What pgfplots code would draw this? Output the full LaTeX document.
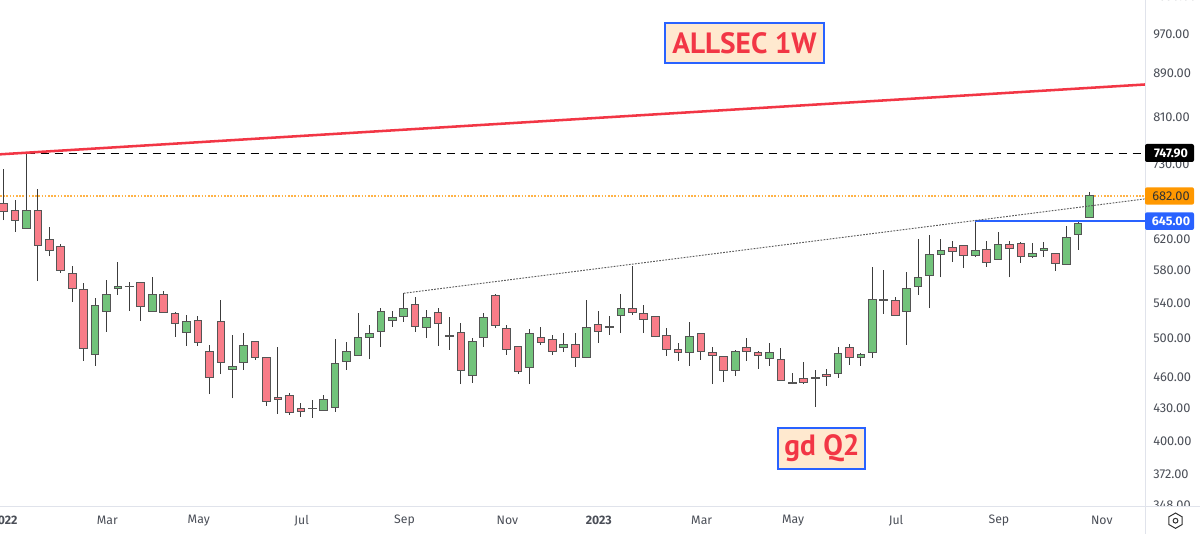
\documentclass[border=0pt]{standalone}
\usepackage{pgfplots}
\usepackage{pgfplotstable}
\usepackage{fontspec}
\usetikzlibrary{shapes.geometric}
\pgfplotsset{compat=1.18}
\setmainfont{Fira Sans}
\newfontfamily\boxfont{PT Sans}
\definecolor{upc}{HTML}{72C37B}
\definecolor{dnc}{HTML}{F87C88}
\definecolor{edge}{HTML}{555555}
\definecolor{wickc}{HTML}{3C3C3C}
\definecolor{tvred}{HTML}{F23645}
\definecolor{tvblue}{HTML}{2962FF}
\definecolor{tvorange}{HTML}{FF9800}
\definecolor{axline}{HTML}{E0E3EB}
\definecolor{lab}{HTML}{4A4E57}
\definecolor{boxfill}{HTML}{FFE9CF}
\definecolor{orangedots}{HTML}{FFB347}
\pgfplotstableread{
o h l c u
669.7 721.5 645.3 658.1 0
658.5 674.5 629.1 644.3 0
634.1 746.6 634.1 658.5 1
658.5 690.4 565.1 611.1 0
619.2 636.4 596.7 604.5 0
608.9 612.9 575.8 577.9 0
574.5 584.2 540.5 556.6 0
555.4 563.4 475.4 488.0 0
481.7 545.3 470.0 536.4 1
529.4 566.7 506.4 549.3 1
556.1 589.0 548.9 558.2 1
559.0 564.6 529.8 558.2 0
563.9 563.9 518.3 534.4 0
529.4 570.8 529.0 549.3 1
549.3 553.3 527.5 527.5 0
526.6 528.3 501.0 515.3 0
505.4 525.1 491.2 517.2 1
519.1 523.7 491.2 494.2 0
485.2 491.7 441.9 457.8 0
517.2 542.5 461.6 473.8 0
466.2 503.2 438.0 469.3 1
473.0 504.7 465.9 491.7 1
496.0 496.0 476.1 478.2 0
478.2 478.2 431.0 435.2 0
438.3 489.8 423.4 436.4 0
440.5 442.8 422.4 424.9 0
428.6 433.3 420.8 425.8 0
428.6 436.7 419.9 427.9 0
426.4 440.9 426.4 436.4 1
429.5 498.8 425.4 472.0 1
474.8 495.2 465.9 485.2 1
481.1 527.8 481.1 499.6 1
499.6 513.9 476.8 504.3 1
506.9 532.9 490.2 529.4 1
519.1 529.8 511.9 521.7 1
522.9 550.5 517.5 532.4 1
537.5 545.7 506.4 511.6 0
511.3 530.6 499.2 522.5 1
527.5 532.9 491.2 515.3 0
502.5 523.2 486.6 501.4 0
505.0 515.7 451.6 465.6 0
460.1 499.9 453.2 496.0 1
499.6 527.1 490.2 522.5 1
548.1 549.7 510.2 513.1 0
509.4 513.9 481.4 486.9 0
490.6 490.6 461.6 464.6 0
468.0 509.1 451.6 504.3 1
499.6 511.9 492.0 494.2 0
497.7 502.9 481.4 484.5 0
488.8 504.7 484.2 492.3 1
492.3 504.7 469.3 478.2 0
478.2 542.5 477.9 510.5 1
514.2 529.8 494.5 506.4 0
510.5 524.0 502.9 512.4 1
524.8 549.7 504.7 532.4 1
532.4 584.6 525.1 527.5 0
526.6 536.7 504.7 519.7 0
523.7 523.7 500.3 501.4 0
502.5 510.2 480.3 486.9 0
487.4 493.8 475.1 483.4 0
483.4 517.5 470.0 501.4 1
504.3 504.3 476.1 484.5 0
484.2 489.8 451.6 480.6 0
480.0 480.0 453.8 465.6 0
465.6 486.6 459.7 485.2 1
489.5 499.2 475.1 484.5 0
483.4 485.2 467.2 480.6 0
477.2 494.5 470.0 483.4 1
476.8 488.4 455.1 455.1 0
451.9 463.2 451.6 453.5 1
456.8 474.4 451.6 453.5 0
457.8 465.6 429.8 457.1 0
461.2 466.6 449.9 459.1 0
462.6 489.8 457.8 482.4 1
489.5 493.4 471.0 478.2 0
478.2 483.1 470.0 481.7 1
483.4 583.3 477.9 542.9 1
543.3 579.1 526.3 542.2 0
542.2 545.7 524.0 524.8 0
529.4 576.2 492.0 556.1 1
559.0 619.2 548.5 569.6 1
572.5 625.0 532.9 598.8 1
599.3 619.2 570.0 603.6 1
608.0 616.5 589.7 602.7 0
611.2 611.2 581.5 597.1 0
597.5 645.7 595.4 603.6 1
605.8 616.5 583.3 588.4 0
592.8 628.7 592.8 612.0 1
612.0 616.9 570.0 606.6 0
613.8 615.1 588.0 596.2 0
595.8 613.8 594.1 600.1 1
604.0 615.1 596.2 607.2 1
600.1 600.1 578.2 587.6 0
586.0 637.8 586.0 621.3 1
626.0 643.3 605.3 641.0 1
649.0 686.8 649.0 680.4 1
}\candles
\tikzset{
  wick/.style={draw=wickc,line width=0.75pt,yshift=0.75pt},
  body1/.style={draw=edge,fill=upc,line width=0.75pt,yshift=0.75pt},
  body0/.style={draw=edge,fill=dnc,line width=0.75pt,yshift=0.75pt},
}
\begin{document}
\begin{tikzpicture}
\clip[use as bounding box] (0,0) rectangle (900pt,400.5pt);
\begin{axis}[
  at={(0pt,20.25pt)},anchor=south west,
  scale only axis,width=858.75pt,height=379.5pt,
  xmin=-0.32,xmax=99.85,
  ymode=log,ymin=346.5,ymax=1042.2,
  axis line style={draw=none},
  major tick length=0pt,minor tick length=0pt,
  tick style={draw=none},
  xtick={0,9,17,26,35,44,52,61,69,78,87,96},
  xticklabels={\textbf{2022},Mar,May,Jul,Sep,Nov,\textbf{2023},Mar,May,Jul,Sep,Nov},
  xticklabel style={font=\fontsize{9.2pt}{10pt}\selectfont,text=lab,anchor=center,yshift=-10.3pt,inner sep=0pt,xshift=0.6pt},
  ytick={348,372,400,430,460,500,540,580,620,730,810,890,970},
  yticklabels={348.00,372.00,400.00,430.00,460.00,500.00,540.00,580.00,620.00,730.00,810.00,890.00,970.00},
  yticklabel pos=right,
  yticklabel style={font=\fontsize{9.6pt}{10pt}\selectfont,text=lab,anchor=west,inner sep=0pt,xshift=6pt},
  log basis y=10,
]
\addplot[draw=orangedots,line width=1.1pt,dash pattern=on 1.2pt off 1.2pt,forget plot] coordinates {(-0.32,682)(99.85,682)};
\addplot[draw=black,line width=0.75pt,dash pattern=on 6.5pt off 4pt,forget plot] coordinates {(2,747.9)(99.85,747.9)};
\pgfplotsforeachungrouped \i in {0,...,95}{
  \pgfplotstablegetelem{\i}{o}\of\candles\let\vo\pgfplotsretval
  \pgfplotstablegetelem{\i}{h}\of\candles\let\vh\pgfplotsretval
  \pgfplotstablegetelem{\i}{l}\of\candles\let\vl\pgfplotsretval
  \pgfplotstablegetelem{\i}{c}\of\candles\let\vc\pgfplotsretval
  \pgfplotstablegetelem{\i}{u}\of\candles\let\vu\pgfplotsretval
  \pgfmathsetmacro\xa{\i-0.335}
  \pgfmathsetmacro\xb{\i+0.335}
  \edef\temp{%
    \noexpand\addplot[wick,forget plot] coordinates {(\i,\vl)(\i,\vh)};%
    \noexpand\addplot[body\vu,forget plot] coordinates {(\xa,\vo)(\xb,\vo)(\xb,\vc)(\xa,\vc)} -- cycle;%
  }\temp
}
\addplot[draw=tvred,line width=1.9pt,forget plot] coordinates {(-0.32,746.5)(99.85,869.0)};
\addplot[draw=tvblue,line width=1.4pt,forget plot] coordinates {(85,646)(99.85,646)};
\addplot[draw=black!65,line width=0.7pt,dash pattern=on 1.3pt off 1pt,forget plot] coordinates {(35,551.7)(99.85,677.5)};
\end{axis}
\begin{scope}[shift={(0,400.5pt)},x=0.75pt,y=-0.75pt]
  % price axis frame; the lower part of the 348.00 label is hidden as in the reference
  \fill[white] (1146,506.7) rectangle (1200,534);
  \draw[axline,line width=0.75pt] (0,506.7) -- (1200,506.7);
  \draw[axline,line width=0.75pt] (1145,0) -- (1145,534);
  \node[anchor=west,inner sep=0pt,text=lab,font=\fontsize{9.6pt}{10pt}\selectfont] at (1153,-3.4) {1050.00};
  % price tags
  \fill[black,rounded corners=1.5pt] (1145,144) rectangle (1194,162);
  \node[text=white,inner sep=0pt,font=\fontsize{9.4pt}{10pt}\selectfont\bfseries] at (1171,153) {747.90};
  \fill[tvorange,rounded corners=1.5pt] (1145,187.3) rectangle (1194,204.7);
  \node[text=black!80,inner sep=0pt,font=\fontsize{9.6pt}{10pt}\selectfont] at (1171,196) {682.00};
  \fill[tvblue,rounded corners=1.5pt] (1145,212.3) rectangle (1194,230);
  \node[text=white,inner sep=0pt,font=\fontsize{9.4pt}{10pt}\selectfont\bfseries] at (1171,221) {645.00};
  % annotation boxes
  \filldraw[fill=boxfill,draw=tvblue,line width=1.6pt] (665,23) rectangle (824,63);
  \node[text=tvred,inner sep=0pt,font=\boxfont\bfseries\fontsize{22pt}{24pt}\selectfont] at (744.5,43) {ALLSEC 1W};
  \filldraw[fill=boxfill,draw=tvblue,line width=1.6pt] (778,428) rectangle (865,469);
  \node[text=tvred,inner sep=0pt,font=\boxfont\bfseries\fontsize{22pt}{24pt}\selectfont] at (822,448) {gd Q2};
  % settings icon
  \node[draw=black!80,regular polygon,regular polygon sides=6,shape border rotate=30,minimum size=11.5pt,inner sep=0pt,line width=0.75pt] at (1175.5,520.7) {};
  \node[draw=black!80,circle,minimum size=3.6pt,inner sep=0pt,line width=0.75pt] at (1175.5,520.7) {};
\end{scope}
\end{tikzpicture}
\end{document}
